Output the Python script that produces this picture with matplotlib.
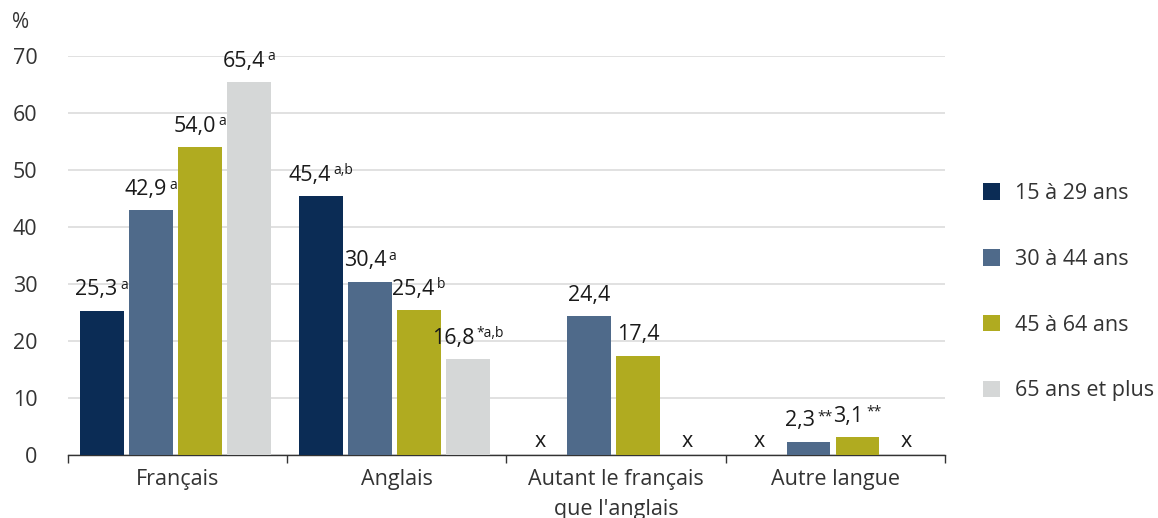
import matplotlib
matplotlib.use("Agg")
import matplotlib.pyplot as plt
from matplotlib.patches import Patch
import numpy as np

plt.rcParams['font.family'] = ['Open Sans', 'DejaVu Sans']

categories = ["Français", "Anglais", "Autant le français\nque l'anglais", "Autre langue"]
series = ["15 à 29 ans", "30 à 44 ans", "45 à 64 ans", "65 ans et plus"]
values = {
    "15 à 29 ans":    [25.3, 45.4, None, None],
    "30 à 44 ans":    [42.9, 30.4, 24.4, 2.3],
    "45 à 64 ans":    [54.0, 25.4, 17.4, 3.1],
    "65 ans et plus": [65.4, 16.8, None, None],
}
notes = {
    "15 à 29 ans":    ["a", "a,b", "", ""],
    "30 à 44 ans":    ["a", "a", "", "**"],
    "45 à 64 ans":    ["a", "b", "", "**"],
    "65 ans et plus": ["a", "*a,b", "", ""],
}
colors = ["#0b2c55", "#4f6a8a", "#b0ab20", "#d5d7d7"]
yticks = [0, 10, 20, 30, 40, 50, 60, 70]

FS = 15.5
W, H = 1158, 518
fig = plt.figure(figsize=(W / 100, H / 100), dpi=100)
ax = fig.add_axes([68 / W, 1 - 455 / H, (945 - 68) / W, (455 - 56) / H])

x = np.arange(len(categories))
step = 0.2237
width = 0.2
shift = -0.011
VOFF = 7.5
SGAP = 1.8

main_texts = []
for k, s in enumerate(series):
    pos = x + (k - 1.5) * step + shift
    for i, v in enumerate(values[s]):
        if v is None:
            ax.text(pos[i], 0.6, "x", ha="center", va="bottom", fontsize=FS, color="#1a1a1a")
            continue
        ax.bar(pos[i], v, width=width, color=colors[k], linewidth=0, zorder=3)
        lab = f"{v:.1f}".replace(".", ",")
        t = ax.annotate(lab, xy=(pos[i], v), xytext=(0, VOFF), textcoords="offset points",
                        ha="center", va="bottom", fontsize=FS, color="#1a1a1a", zorder=4)
        sup = None
        if notes[s][i]:
            sup = ax.annotate(notes[s][i], xy=(1, 1), xycoords=t, xytext=(SGAP, 1.0),
                              textcoords="offset points", ha="left", va="top",
                              fontsize=10, color="#1a1a1a", zorder=4)
        main_texts.append((t, sup))

ax.set_xlim(-0.5, 3.5)
ax.set_ylim(0, 70)
ax.set_yticks(yticks)
ax.set_yticklabels([str(v) for v in yticks])
ax.yaxis.grid(True, color="#dcdcdc", linewidth=1.2, zorder=0)
ax.set_axisbelow(True)
ax.tick_params(axis="y", length=0, pad=22, labelsize=FS, labelcolor="#333333")
for sp in ["left", "right", "top"]:
    ax.spines[sp].set_visible(False)
ax.spines["bottom"].set_color("#333333")
ax.spines["bottom"].set_linewidth(1.0)
ax.set_xticks(x)
ax.set_xticklabels(categories, fontsize=FS, color="#333333", linespacing=1.6)
ax.tick_params(axis="x", which="major", length=0, pad=10)
ax.set_xticks(np.arange(-0.5, 4.0, 1.0), minor=True)
ax.tick_params(axis="x", which="minor", length=6, width=1.0, color="#333333", direction="out")

fig.text(12 / W, 1 - 23 / H, "%", fontsize=15, color="#333333", va="center", ha="left")

handles = [Patch(facecolor=c, edgecolor="none") for c in colors]
fig.legend(handles, series, loc="upper left", bbox_to_anchor=(983 / W, 1 - 183 / H),
           frameon=False, fontsize=FS, handlelength=0.8, handleheight=0.8,
           handletextpad=0.7, labelspacing=2.08, borderpad=0, borderaxespad=0,
           labelcolor="#333333")

# center value label + superscript together over the bar
fig.canvas.draw()
r = fig.canvas.get_renderer()
for t, sup in main_texts:
    if sup is not None:
        w = sup.get_window_extent(r).width + SGAP * 100 / 72
        t.xyann = (-(w / 2) * 72 / 100, VOFF)

fig.savefig("out.png", dpi=100)
